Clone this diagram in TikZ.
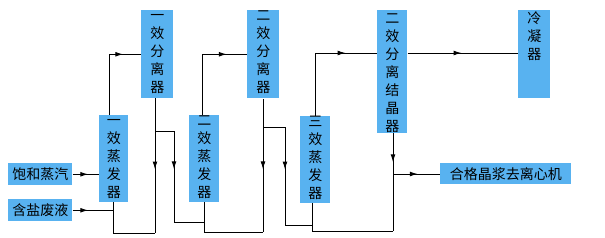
\documentclass[tikz,border=0pt]{standalone}
\usepackage{fontspec}
\newfontfamily\cjk{Noto Sans CJK SC}
\usetikzlibrary{arrows.meta,decorations.markings}
\definecolor{boxblue}{RGB}{88,178,240}
\begin{document}
\begin{tikzpicture}[x=0.75pt,y=-0.75pt,
  box/.style={draw=none,fill=boxblue,inner sep=0pt,anchor=north west},
  bx/.style 2 args={minimum width=#1*0.75pt,minimum height=#2*0.75pt},
  txt/.style={font=\cjk\fontsize{10.5pt}{13.5pt}\selectfont,align=center,inner sep=0pt},
  vl/.style={txt,anchor=north,yshift=#1},
  ln/.style={line width=0.75pt,draw=black},
  arr/.style={postaction={decorate},decoration={markings,mark=at position #1 with {\arrow{Latex[length=6pt,width=3.6pt]}}}},
]
\useasboundingbox (0,0) rectangle (605,237);
% boxes
\node[box,bx={64}{22},txt] (steam) at (8,163) {饱和蒸汽};
\node[box,bx={64}{22},txt] (brine) at (8,199) {含盐废液};
\node[box,bx={29}{87},label={[vl=1.7pt]north:{\strut 一\\效\\蒸\\发\\器}}] (e1) at (99,115) {};
\node[box,bx={32}{88},label={[vl=1.7pt]north:{\strut 一\\效\\分\\离\\器}}] (s1) at (141,10) {};
\node[box,bx={30}{87},label={[vl=1.7pt]north:{\strut 二\\效\\蒸\\发\\器}}] (e2) at (189,115) {};
\node[box,bx={32}{88},label={[vl=1.7pt]north:{\strut 二\\效\\分\\离\\器}}] (s2) at (247,10) {};
\node[box,bx={30}{87},label={[vl=1.7pt]north:{\strut 三\\效\\蒸\\发\\器}}] (e3) at (300,116) {};
\node[box,bx={30}{123},label={[vl=-0.5pt]north:{\strut 二\\效\\分\\离\\结\\晶\\器}}] (s3) at (377,10) {};
\node[box,bx={32}{88},label={[vl=-0.5pt]north:{\strut 冷\\凝\\器}}] (cond) at (518,10) {};
\node[box,bx={131}{21},txt] (out) at (440,163) {合格晶浆去离心机};
% named points on the lines
\coordinate (e1t) at (109,115);
\coordinate (e1b) at (113,202);
\coordinate (s1o) at (155,98);
\coordinate (j1) at (155,233);
\coordinate (k1) at (155,131);
\coordinate (m1) at (174,222);
\coordinate (e2t) at (202,115);
\coordinate (e2b) at (204,202);
\coordinate (s2o) at (263,99);
\coordinate (j2) at (263,232);
\coordinate (k2) at (263,127);
\coordinate (m2) at (285,225);
\coordinate (e3t) at (315,116);
\coordinate (e3b) at (312,203);
\coordinate (s3o) at (393,133);
\coordinate (j3) at (393,231);
\coordinate (k3) at (393,174);
% connectors
\draw[ln,arr=0.6] (steam.east) -- (steam.east -| e1.west);
\draw[ln,arr=0.39] (brine.east) -- (brine.east -| e1b);
\draw[ln,arr=0.81] (e1t) |- (e1t |- s1.west) -- (s1.west);
\draw[ln] (e1b) |- (j1);
\draw[ln,arr=0.53] (s1o) -- (j1);
\draw[ln,arr=0.41] (k1) -| (m1) -- (m1 -| e2b);
\draw[ln,arr=0.81] (e2t) |- (s2.west);
\draw[ln] (e2b) |- (j2);
\draw[ln,arr=0.53] (s2o) -- (j2);
\draw[ln,arr=0.44] (k2) -| (m2) -- (m2 -| e3b);
\draw[ln,arr=0.75] (e3t) |- (e3t |- 0,53) -- (377,53);
\draw[ln] (e3b) |- (j3);
\draw[ln,arr=0.3] (s3o) -- (j3);
\draw[ln,arr=0.53] (k3) -- (k3 -| out.west);
\draw[ln,arr=0.49] (s3.east |- 0,53) -- (cond.west |- 0,53);
\end{tikzpicture}
\end{document}
